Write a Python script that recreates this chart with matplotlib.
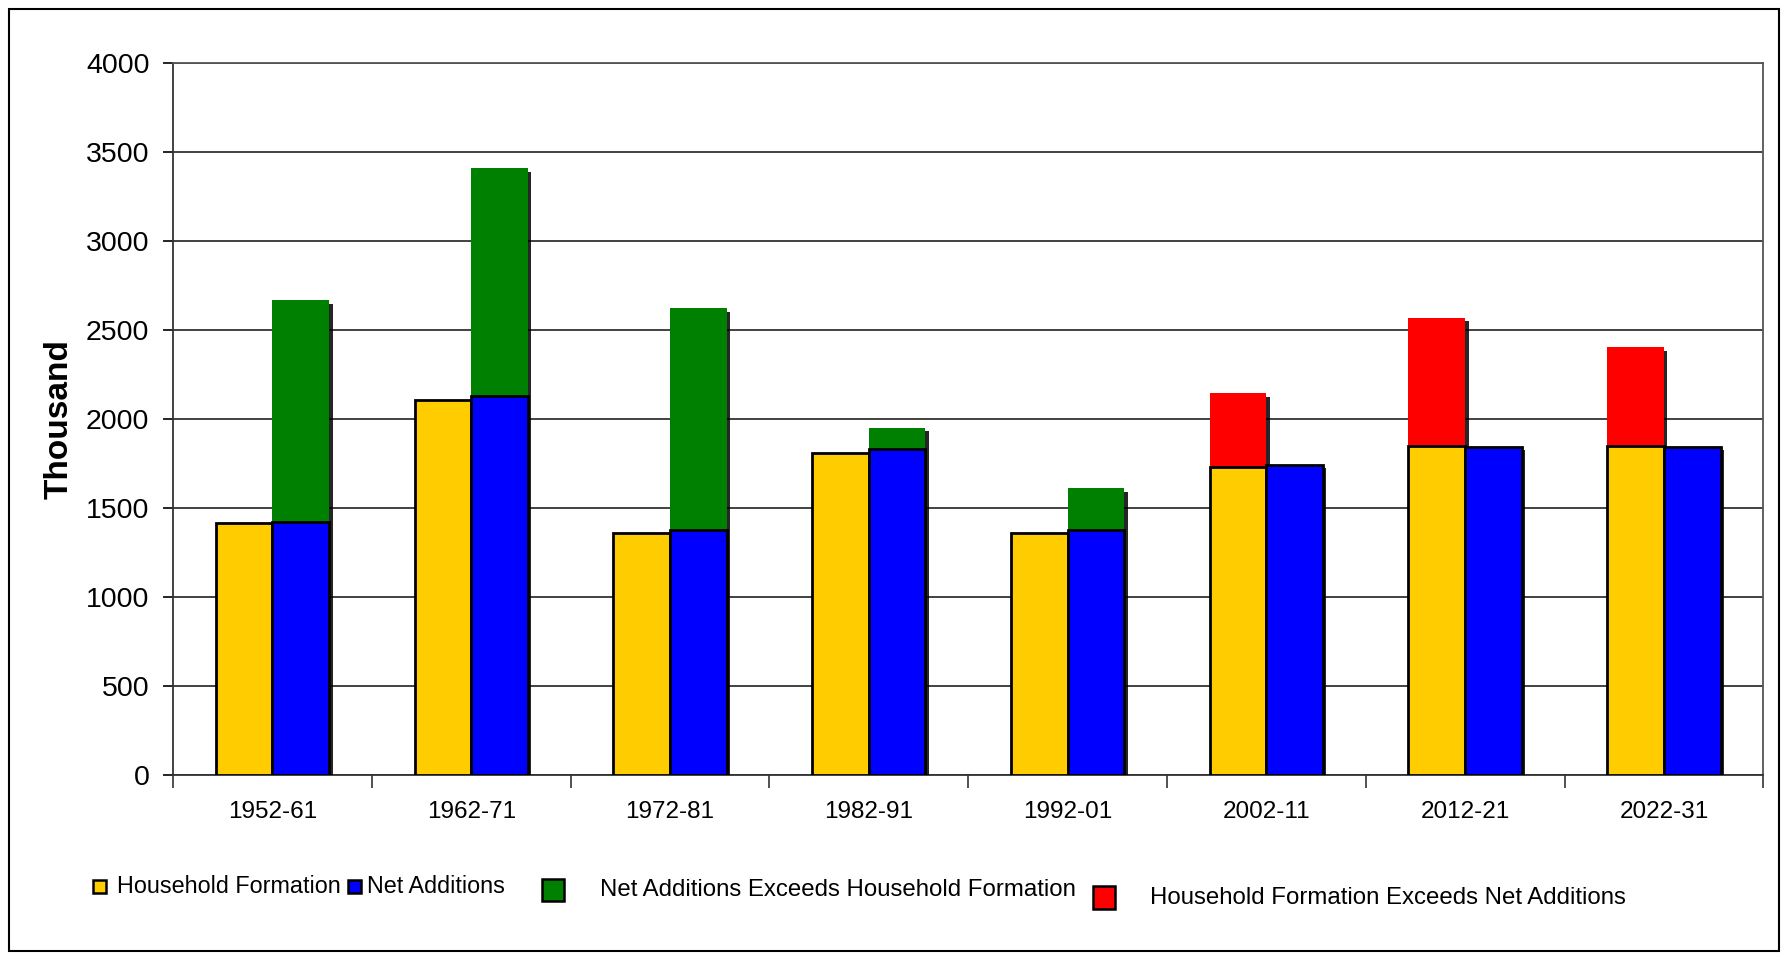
import matplotlib
matplotlib.use("Agg")
import matplotlib.pyplot as plt
import matplotlib.patches as mpatches
import matplotlib.patheffects as pe
import numpy as np

plt.rcParams['font.family'] = ['Liberation Sans Narrow', 'Liberation Sans', 'DejaVu Sans']

# values (thousand)
periods = ['1952-61', '1962-71', '1972-81', '1982-91', '1992-01', '2002-11', '2012-21', '2022-31']
household_formation = [1415, 2104, 1355, 1809, 1355, 1726, 1846, 1846]
net_additions = [1419, 2125, 1376, 1829, 1376, 1740, 1842, 1842]
# top of the green piece (net additions exceeds household formation)
na_exceeds_top = [2666, 3407, 2620, 1947, 1608, 0, 0, 0]
# top of the red piece (household formation exceeds net additions)
hf_exceeds_top = [0, 0, 0, 0, 0, 2142, 2565, 2402]

green_extra = [t - b if t > 0 else 0 for t, b in zip(na_exceeds_top, net_additions)]
red_extra = [t - b if t > 0 else 0 for t, b in zip(hf_exceeds_top, household_formation)]

fig = plt.figure(figsize=(17.86, 9.57), dpi=100)
ax = fig.add_axes([0.0969, 0.1906, 0.9873 - 0.0969, 0.9346 - 0.1906])

x = np.arange(len(periods))
w = 0.285
shadow = [pe.SimplePatchShadow(offset=(2.5, -2.5), shadow_rgbFace='black', alpha=0.85), pe.Normal()]

b1 = ax.bar(x - w / 2, household_formation, w, color='#FFCC00', edgecolor='black', linewidth=2, zorder=3)
b2 = ax.bar(x + w / 2, net_additions, w, color='#0000FF', edgecolor='black', linewidth=2, zorder=3)
b3 = ax.bar(x + w / 2, green_extra, w, bottom=net_additions, color='#008000', linewidth=0, zorder=2)
b4 = ax.bar(x - w / 2, red_extra, w, bottom=household_formation, color='#FF0000', linewidth=0, zorder=2)
for bars in (b1, b2, b3, b4):
    for p in bars:
        if p.get_height() > 0:
            p.set_path_effects(shadow)

ax.set_ylim(0, 4000)
ax.set_xlim(-0.5, len(periods) - 0.5)
ax.set_yticks(np.arange(0, 4001, 500))
ax.yaxis.grid(True, color='#333333', linewidth=1.3)
ax.set_axisbelow(True)

ax.set_xticks(np.arange(-0.5, len(periods), 1.0))
ax.set_xticklabels([])
ax.set_xticks(x, minor=True)
ax.set_xticklabels(periods, minor=True, fontsize=17.5)
ax.tick_params(axis='x', which='major', length=9, width=1.2, color='#333333')
ax.tick_params(axis='x', which='minor', length=0, pad=19)
ax.tick_params(axis='y', labelsize=20.5, length=7, width=1.2, pad=10)

for s in ['left', 'bottom']:
    ax.spines[s].set_color('#333333')
    ax.spines[s].set_linewidth(1.3)
for s in ['top', 'right']:
    ax.spines[s].set_color('#555555')
    ax.spines[s].set_linewidth(1.3)

fig.text(0.033, 0.5626, 'Thousand', rotation=90, ha='center', va='center',
         fontsize=24, fontweight='bold', family=['Liberation Sans', 'DejaVu Sans'])

# legend, laid out like the original
legend_items = [
    ('#FFCC00', 'Household Formation', 0.0521, 0.0655, 0.0074, 0.0135),
    ('#0000FF', 'Net Additions', 0.1950, 0.2053, 0.0074, 0.0135),
    ('#008000', 'Net Additions Exceeds Household Formation', 0.3035, 0.336, 0.0125, 0.0240),
    ('#FF0000', 'Household Formation Exceeds Net Additions', 0.612, 0.644, 0.0125, 0.0240),
]
legend_y = [0.074, 0.074, 0.070, 0.062]
legend_size = [16.8, 16.8, 17.3, 17.3]
for (c, lab, mx, tx, mw, mh), yy, fs in zip(legend_items, legend_y, legend_size):
    fig.patches.append(mpatches.Rectangle((mx, yy - mh / 2), mw, mh, transform=fig.transFigure,
                                          facecolor=c, edgecolor='black', linewidth=1.8))
    fig.text(tx, yy, lab, ha='left', va='center', fontsize=fs)

fig.patches.append(mpatches.Rectangle((0.005, 0.0063), 0.991, 0.9843, transform=fig.transFigure,
                                      fill=False, edgecolor='black', linewidth=1.5))

fig.savefig('out.png', dpi=100)
